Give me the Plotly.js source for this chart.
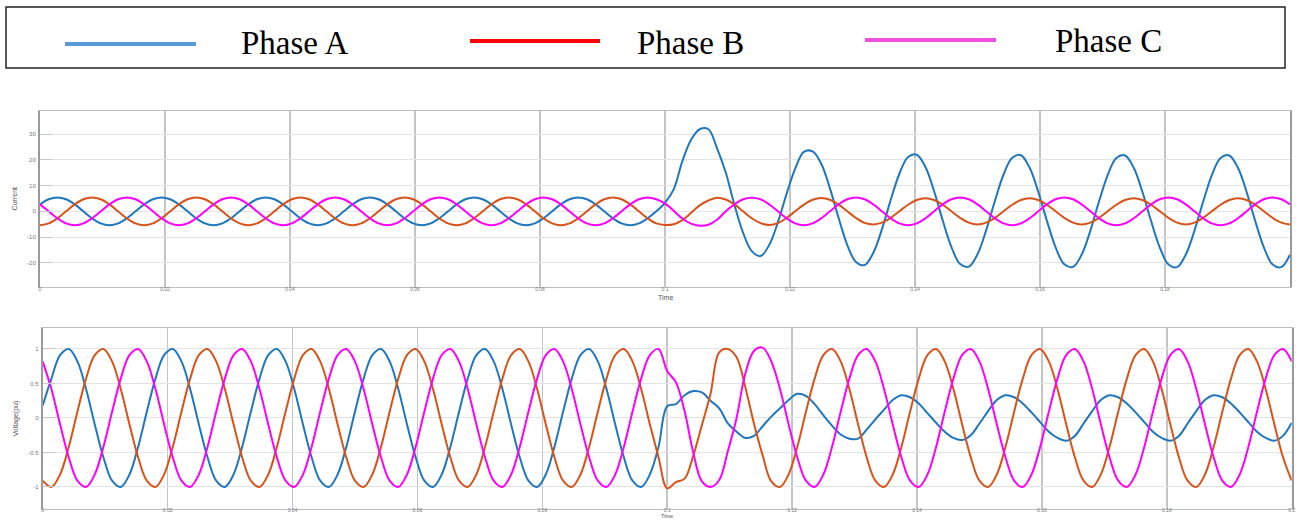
<!DOCTYPE html>
<html>
<head>
<meta charset="utf-8">
<script src="https://cdn.plot.ly/plotly-3.0.1.min.js"></script>
<style>
html,body{margin:0;padding:0;background:#fff;}
#chart{width:1299px;height:520px;}
</style>
</head>
<body>
<div id="chart"></div>
<script>
// ---- data ----
const time = [
  0, 0.00139, 0.00278, 0.00417, 0.00556, 0.00694, 0.00833, 0.00972, 0.01111, 0.0125, 0.01389, 0.01528,
  0.01667, 0.01806, 0.01944, 0.02083, 0.02222, 0.02361, 0.025, 0.02639, 0.02778, 0.02917, 0.03056, 0.03194,
  0.03333, 0.03472, 0.03611, 0.0375, 0.03889, 0.04028, 0.04167, 0.04306, 0.04444, 0.04583, 0.04722, 0.04861,
  0.05, 0.05139, 0.05278, 0.05417, 0.05556, 0.05694, 0.05833, 0.05972, 0.06111, 0.0625, 0.06389, 0.06528,
  0.06667, 0.06806, 0.06944, 0.07083, 0.07222, 0.07361, 0.075, 0.07639, 0.07778, 0.07917, 0.08056, 0.08194,
  0.08333, 0.08472, 0.08611, 0.0875, 0.08889, 0.09028, 0.09167, 0.09306, 0.09444, 0.09583, 0.09722, 0.09861,
  0.1, 0.10139, 0.10278, 0.10417, 0.10556, 0.10694, 0.10833, 0.10972, 0.11111, 0.1125, 0.11389, 0.11528,
  0.11667, 0.11806, 0.11944, 0.12083, 0.12222, 0.12361, 0.125, 0.12639, 0.12778, 0.12917, 0.13056, 0.13194,
  0.13333, 0.13472, 0.13611, 0.1375, 0.13889, 0.14028, 0.14167, 0.14306, 0.14444, 0.14583, 0.14722, 0.14861,
  0.15, 0.15139, 0.15278, 0.15417, 0.15556, 0.15694, 0.15833, 0.15972, 0.16111, 0.1625, 0.16389, 0.16528,
  0.16667, 0.16806, 0.16944, 0.17083, 0.17222, 0.17361, 0.175, 0.17639, 0.17778, 0.17917, 0.18056, 0.18194,
  0.18333, 0.18472, 0.18611, 0.1875, 0.18889, 0.19028, 0.19167, 0.19306, 0.19444, 0.19583, 0.19722, 0.19861,
  0.2
];

const currentA = [
  2.7, 4.7, 5.4, 4.7, 2.7, 0, -2.7, -4.7, -5.4, -4.7, -2.7, 0,
  2.7, 4.7, 5.4, 4.7, 2.7, 0, -2.7, -4.7, -5.4, -4.7, -2.7, 0,
  2.7, 4.7, 5.4, 4.7, 2.7, 0, -2.7, -4.7, -5.4, -4.7, -2.7, 0,
  2.7, 4.7, 5.4, 4.7, 2.7, 0, -2.7, -4.7, -5.4, -4.7, -2.7, 0,
  2.7, 4.7, 5.4, 4.7, 2.7, 0, -2.7, -4.7, -5.4, -4.7, -2.7, 0,
  2.7, 4.7, 5.4, 4.7, 2.7, 0, -2.7, -4.7, -5.4, -4.7, -2.7, 0,
  3.3, 8.5, 19.5, 27.8, 31.9, 31.9, 24.5, 15.1, 2.5, -8.4, -15.5, -17.4,
  -13.1, -4.3, 6.7, 16.6, 23.1, 23.3, 18.5, 8.9, -2.6, -13.1, -19.7, -20.9,
  -16.1, -6.9, 4.4, 14.6, 21.1, 22.0, 17.2, 7.8, -3.6, -13.9, -20.5, -21.5,
  -16.7, -7.3, 4.0, 14.3, 20.8, 21.8, 17.0, 7.6, -3.7, -14.0, -20.6, -21.6,
  -16.8, -7.5, 3.8, 14.1, 20.7, 21.7, 16.9, 7.5, -3.8, -14.1, -20.7, -21.7,
  -16.8, -7.5, 3.8, 14.1, 20.7, 21.7, 16.9, 7.5, -3.8, -14.1, -20.7, -21.7,
  -16.9
];
const currentB = [
  -5.4, -4.7, -2.7, 0, 2.7, 4.7, 5.4, 4.7, 2.7, 0, -2.7, -4.7,
  -5.4, -4.7, -2.7, 0, 2.7, 4.7, 5.4, 4.7, 2.7, 0, -2.7, -4.7,
  -5.4, -4.7, -2.7, 0, 2.7, 4.7, 5.4, 4.7, 2.7, 0, -2.7, -4.7,
  -5.4, -4.7, -2.7, 0, 2.7, 4.7, 5.4, 4.7, 2.7, 0, -2.7, -4.7,
  -5.4, -4.7, -2.7, 0, 2.7, 4.7, 5.4, 4.7, 2.7, 0, -2.7, -4.7,
  -5.4, -4.7, -2.7, 0, 2.7, 4.7, 5.4, 4.7, 2.7, 0, -2.7, -4.7,
  -5.3, -5.0, -3.4, -0.6, 2.3, 4.2, 5.3, 4.6, 2.7, 0, -2.7, -4.6,
  -5.3, -4.6, -2.6, 0, 2.6, 4.5, 5.2, 4.5, 2.6, 0, -2.6, -4.5,
  -5.1, -4.4, -2.55, 0, 2.55, 4.4, 5.1, 4.4, 2.55, 0, -2.55, -4.4,
  -5.1, -4.4, -2.55, 0, 2.55, 4.4, 5.1, 4.4, 2.55, 0, -2.55, -4.4,
  -5.1, -4.4, -2.55, 0, 2.55, 4.4, 5.1, 4.4, 2.55, 0, -2.55, -4.4,
  -5.1, -4.4, -2.55, 0, 2.55, 4.4, 5.1, 4.4, 2.55, 0, -2.55, -4.4,
  -5.1
];
const currentC = [
  2.7, 0, -2.7, -4.7, -5.4, -4.7, -2.7, 0, 2.7, 4.7, 5.4, 4.7,
  2.7, 0, -2.7, -4.7, -5.4, -4.7, -2.7, 0, 2.7, 4.7, 5.4, 4.7,
  2.7, 0, -2.7, -4.7, -5.4, -4.7, -2.7, 0, 2.7, 4.7, 5.4, 4.7,
  2.7, 0, -2.7, -4.7, -5.4, -4.7, -2.7, 0, 2.7, 4.7, 5.4, 4.7,
  2.7, 0, -2.7, -4.7, -5.4, -4.7, -2.7, 0, 2.7, 4.7, 5.4, 4.7,
  2.7, 0, -2.7, -4.7, -5.4, -4.7, -2.7, 0, 2.7, 4.7, 5.4, 4.7,
  3.1, 0.2, -2.8, -4.8, -5.6, -5.2, -3.3, 0, 2.7, 4.7, 5.3, 4.7,
  2.7, 0, -2.7, -4.7, -5.4, -4.7, -2.7, 0, 2.7, 4.7, 5.4, 4.7,
  2.7, 0, -2.7, -4.7, -5.4, -4.7, -2.7, 0, 2.7, 4.7, 5.4, 4.7,
  2.7, 0, -2.7, -4.7, -5.4, -4.7, -2.7, 0, 2.7, 4.7, 5.4, 4.7,
  2.7, 0, -2.7, -4.7, -5.4, -4.7, -2.7, 0, 2.7, 4.7, 5.4, 4.7,
  2.7, 0, -2.7, -4.7, -5.4, -4.7, -2.7, 0, 2.7, 4.7, 5.4, 4.7,
  2.7
];

const voltageA = [
  0.18, 0.57, 0.91, 1.0, 0.82, 0.42, -0.09, -0.57, -0.91, -1.0, -0.82, -0.42,
  0.09, 0.57, 0.91, 1.0, 0.82, 0.42, -0.09, -0.57, -0.91, -1.0, -0.82, -0.42,
  0.09, 0.57, 0.91, 1.0, 0.82, 0.42, -0.09, -0.57, -0.91, -1.0, -0.82, -0.42,
  0.09, 0.57, 0.91, 1.0, 0.82, 0.42, -0.09, -0.57, -0.91, -1.0, -0.82, -0.42,
  0.09, 0.57, 0.91, 1.0, 0.82, 0.42, -0.09, -0.57, -0.91, -1.0, -0.82, -0.42,
  0.09, 0.57, 0.91, 1.0, 0.82, 0.42, -0.09, -0.57, -0.91, -1.0, -0.82, -0.42,
  0.17, 0.2, 0.33, 0.39, 0.37, 0.25, 0.14, -0.08, -0.2, -0.29, -0.26, -0.12,
  0.02, 0.14, 0.26, 0.35, 0.32, 0.2, 0.04, -0.11, -0.24, -0.3, -0.3, -0.17,
  -0.02, 0.12, 0.26, 0.33, 0.3, 0.21, 0.07, -0.07, -0.2, -0.29, -0.32, -0.25,
  -0.08, 0.1, 0.26, 0.33, 0.3, 0.21, 0.08, -0.06, -0.2, -0.29, -0.33, -0.26,
  -0.08, 0.1, 0.26, 0.33, 0.3, 0.21, 0.08, -0.06, -0.2, -0.29, -0.33, -0.26,
  -0.08, 0.1, 0.26, 0.33, 0.3, 0.21, 0.08, -0.06, -0.2, -0.29, -0.33, -0.26,
  -0.07
];
const voltageB = [
  -0.91, -1.0, -0.82, -0.42, 0.09, 0.57, 0.91, 1.0, 0.82, 0.42, -0.09, -0.57,
  -0.91, -1.0, -0.82, -0.42, 0.09, 0.57, 0.91, 1.0, 0.82, 0.42, -0.09, -0.57,
  -0.91, -1.0, -0.82, -0.42, 0.09, 0.57, 0.91, 1.0, 0.82, 0.42, -0.09, -0.57,
  -0.91, -1.0, -0.82, -0.42, 0.09, 0.57, 0.91, 1.0, 0.82, 0.42, -0.09, -0.57,
  -0.91, -1.0, -0.82, -0.42, 0.09, 0.57, 0.91, 1.0, 0.82, 0.42, -0.09, -0.57,
  -0.91, -1.0, -0.82, -0.42, 0.09, 0.57, 0.91, 1.0, 0.82, 0.42, -0.09, -0.57,
  -1.02, -0.93, -0.88, -0.55, -0.1, 0.35, 0.95, 1.0, 0.88, 0.45, -0.08, -0.54,
  -0.92, -1.0, -0.82, -0.42, 0.09, 0.57, 0.91, 1.0, 0.82, 0.42, -0.09, -0.57,
  -0.91, -1.0, -0.82, -0.42, 0.09, 0.57, 0.91, 1.0, 0.82, 0.42, -0.09, -0.57,
  -0.91, -1.0, -0.82, -0.42, 0.09, 0.57, 0.91, 1.0, 0.82, 0.42, -0.09, -0.57,
  -0.91, -1.0, -0.82, -0.42, 0.09, 0.57, 0.91, 1.0, 0.82, 0.42, -0.09, -0.57,
  -0.91, -1.0, -0.82, -0.42, 0.09, 0.57, 0.91, 1.0, 0.82, 0.42, -0.09, -0.57,
  -0.91
];
const voltageC = [
  0.82, 0.42, -0.09, -0.57, -0.91, -1.0, -0.82, -0.42, 0.09, 0.57, 0.91, 1.0,
  0.82, 0.42, -0.09, -0.57, -0.91, -1.0, -0.82, -0.42, 0.09, 0.57, 0.91, 1.0,
  0.82, 0.42, -0.09, -0.57, -0.91, -1.0, -0.82, -0.42, 0.09, 0.57, 0.91, 1.0,
  0.82, 0.42, -0.09, -0.57, -0.91, -1.0, -0.82, -0.42, 0.09, 0.57, 0.91, 1.0,
  0.82, 0.42, -0.09, -0.57, -0.91, -1.0, -0.82, -0.42, 0.09, 0.57, 0.91, 1.0,
  0.82, 0.42, -0.09, -0.57, -0.91, -1.0, -0.82, -0.42, 0.09, 0.57, 0.91, 1.0,
  0.68, 0.52, 0.1, -0.5, -0.92, -1.0, -0.9, -0.48, 0.0, 0.64, 0.97, 1.02,
  0.82, 0.42, -0.09, -0.57, -0.91, -1.0, -0.82, -0.42, 0.09, 0.57, 0.91, 1.0,
  0.82, 0.42, -0.09, -0.57, -0.91, -1.0, -0.82, -0.42, 0.09, 0.57, 0.91, 1.0,
  0.82, 0.42, -0.09, -0.57, -0.91, -1.0, -0.82, -0.42, 0.09, 0.57, 0.91, 1.0,
  0.82, 0.42, -0.09, -0.57, -0.91, -1.0, -0.82, -0.42, 0.09, 0.57, 0.91, 1.0,
  0.82, 0.42, -0.09, -0.57, -0.91, -1.0, -0.82, -0.42, 0.09, 0.57, 0.91, 1.0,
  0.82
];

const legendLabels = ['Phase A', 'Phase B', 'Phase C'];
const timeTicksTop = [0, 0.02, 0.04, 0.06, 0.08, 0.1, 0.12, 0.14, 0.16, 0.18];
const timeTicksBottom = [0, 0.02, 0.04, 0.06, 0.08, 0.1, 0.12, 0.14, 0.16, 0.18, 0.2];
const currentTicks = [-20, -10, 0, 10, 20, 30];
const voltageTicks = [-1, -0.5, 0, 0.5, 1];
const axisTitles = {time: 'Time', current: 'Current', voltage: 'Voltage(pu)'};

// ---- styling ----
const W = 1299, H = 520;
const px = x => x / W;
const py = y => 1 - y / H;
const traceColors = ['#1f77bf', '#d95319', '#ff00ff'];
const legendColors = ['#5b9bd5', '#ff0000', '#f050e0'];

function mk(y, color, xa, ya) {
  return {x: time, y: y, type: 'scatter', mode: 'lines', xaxis: xa, yaxis: ya,
    line: {color: color, width: 2, shape: 'spline', smoothing: 1}, showlegend: false, hoverinfo: 'skip'};
}
const data = [
  mk(currentA, traceColors[0], 'x', 'y'),
  mk(currentB, traceColors[1], 'x', 'y'),
  mk(currentC, traceColors[2], 'x', 'y'),
  mk(voltageA, traceColors[0], 'x2', 'y2'),
  mk(voltageB, traceColors[1], 'x2', 'y2'),
  mk(voltageC, traceColors[2], 'x2', 'y2')
];

const sans = 'Liberation Sans, Arial, sans-serif';
const fmt = v => String(v);

const xCommon = {
  range: [0, 0.2], showgrid: true, gridcolor: '#c4c4c4', gridwidth: 1.5, zeroline: false,
  showline: true, mirror: true, linecolor: '#bdbdbd', linewidth: 1,
  ticks: '', tickfont: {family: sans, size: 5, color: '#777'}, tickmode: 'array', ticklabelstandoff: -3
};
const yCommon = {
  showgrid: true, gridcolor: '#e3e3e3', gridwidth: 1, zeroline: false,
  showline: true, mirror: true, linecolor: '#9a9a9a', linewidth: 2,
  ticks: 'inside', ticklen: 12, tickcolor: '#c8c8c8', tickwidth: 1,
  tickfont: {family: sans, size: 6, color: '#777'}, tickmode: 'array', ticklabelstandoff: 1
};

const layout = {
  width: W, height: H,
  margin: {l: 0, r: 0, t: 0, b: 0},
  paper_bgcolor: '#ffffff', plot_bgcolor: '#ffffff',
  xaxis: Object.assign({}, xCommon, {
    domain: [px(40), px(1290)], anchor: 'y',
    tickvals: timeTicksTop, ticktext: timeTicksTop.map(fmt)
  }),
  yaxis: Object.assign({}, yCommon, {
    domain: [py(286.7), py(110.7)], anchor: 'x', range: [-29.3, 39.1],
    tickvals: currentTicks, ticktext: currentTicks.map(fmt),
    title: {text: axisTitles.current, font: {family: sans, size: 7, color: '#555'}, standoff: 9}
  }),
  xaxis2: Object.assign({}, xCommon, {
    domain: [px(42.7), px(1291.7)], anchor: 'y2',
    tickvals: timeTicksBottom, ticktext: timeTicksBottom.map(fmt), ticklabelstandoff: -4
  }),
  yaxis2: Object.assign({}, yCommon, {
    domain: [py(509), py(328.3)], anchor: 'x2', range: [-1.32, 1.30],
    tickvals: voltageTicks, ticktext: voltageTicks.map(fmt),
    title: {text: axisTitles.voltage, font: {family: sans, size: 7, color: '#555'}, standoff: 9}
  }),
  shapes: [
    {type: 'rect', xref: 'paper', yref: 'paper', x0: px(6), x1: px(1285), y0: py(68), y1: py(7),
     line: {color: '#222', width: 1.5}, fillcolor: 'rgba(0,0,0,0)'},
    {type: 'line', xref: 'paper', yref: 'paper', x0: px(65), x1: px(196), y0: py(44), y1: py(44),
     line: {color: legendColors[0], width: 4}},
    {type: 'line', xref: 'paper', yref: 'paper', x0: px(470), x1: px(600), y0: py(41), y1: py(41),
     line: {color: legendColors[1], width: 4}},
    {type: 'line', xref: 'paper', yref: 'paper', x0: px(865), x1: px(996), y0: py(40), y1: py(40),
     line: {color: legendColors[2], width: 4}}
  ],
  annotations: [
    {text: legendLabels[0], xref: 'paper', yref: 'paper', x: px(239), y: py(43), xanchor: 'left', yanchor: 'middle',
     showarrow: false, font: {family: 'Liberation Serif, Times New Roman, serif', size: 33, color: '#000'}},
    {text: legendLabels[1], xref: 'paper', yref: 'paper', x: px(635), y: py(43), xanchor: 'left', yanchor: 'middle',
     showarrow: false, font: {family: 'Liberation Serif, Times New Roman, serif', size: 33, color: '#000'}},
    {text: legendLabels[2], xref: 'paper', yref: 'paper', x: px(1053), y: py(41), xanchor: 'left', yanchor: 'middle',
     showarrow: false, font: {family: 'Liberation Serif, Times New Roman, serif', size: 33, color: '#000'}},
    {text: axisTitles.time, xref: 'paper', yref: 'paper', x: px(665), y: py(297), xanchor: 'center', yanchor: 'middle',
     showarrow: false, font: {family: sans, size: 7, color: '#555'}},
    {text: axisTitles.time, xref: 'paper', yref: 'paper', x: px(667), y: py(520.5), xanchor: 'center', yanchor: 'bottom',
     showarrow: false, font: {family: sans, size: 5.5, color: '#555'}}
  ]
};

Plotly.newPlot('chart', data, layout, {displayModeBar: false, staticPlot: true});
</script>
</body>
</html>
